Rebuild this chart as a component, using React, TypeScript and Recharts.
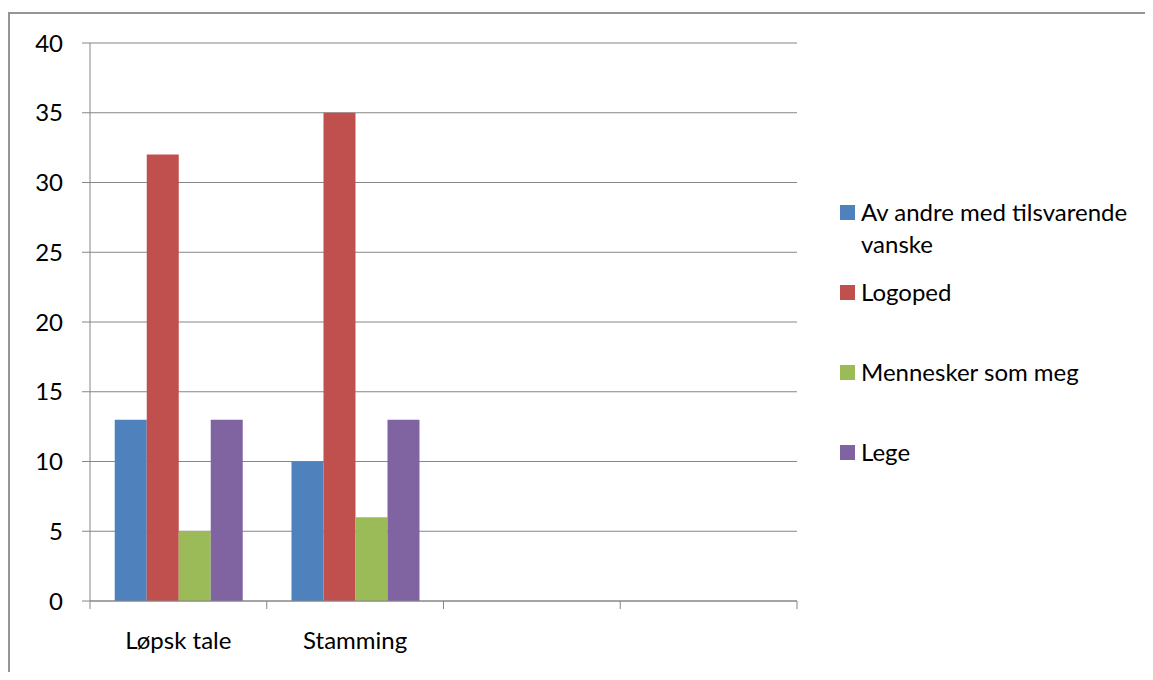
import React from 'react';
import { BarChart, Bar, XAxis, YAxis, CartesianGrid } from 'recharts';

const categories = ['Løpsk tale', 'Stamming', '', ''];
const seriesNames = ['Av andre med tilsvarende vanske', 'Logoped', 'Mennesker som meg', 'Lege'];
const avAndre = [13, 10, null, null];
const logoped = [32, 35, null, null];
const mennesker = [5, 6, null, null];
const lege = [13, 13, null, null];
const yTicks = [0, 5, 10, 15, 20, 25, 30, 35, 40];

const colors = ['#4F81BD', '#C0504D', '#9BBB59', '#8064A2'];
const seriesValues = [avAndre, logoped, mennesker, lege];
const keys = ['s0', 's1', 's2', 's3'];

const data = categories.map((name, i) => {
  const row: Record<string, any> = { name };
  keys.forEach((k, j) => {
    row[k] = seriesValues[j][i];
  });
  return row;
});

const GRID = '#868686';
const FONT = 'Lato, "Open Sans", sans-serif';
const FS = 24;
const X_TICK_SIZE = 8;
const X_TICK_MARGIN = 23;

const CatTick = (props: any) => {
  const { x, y, payload, index, visibleTicksCount, width } = props;
  const count = visibleTicksCount || categories.length;
  const half = payload && typeof payload.offset === 'number' && payload.offset > 0 ? payload.offset : width / (2 * count);
  const axisY = y - X_TICK_SIZE - X_TICK_MARGIN;
  return (
    <g>
      <line x1={x - half} x2={x - half} y1={axisY} y2={axisY + X_TICK_SIZE} stroke={GRID} />
      {index === count - 1 && (
        <line x1={x + half} x2={x + half} y1={axisY} y2={axisY + X_TICK_SIZE} stroke={GRID} />
      )}
      <text x={x} y={y} dy="0.71em" textAnchor="middle" fill="#000" fontSize={FS} fontFamily={FONT}>
        {payload.value}
      </text>
    </g>
  );
};

export default function App() {
  return (
    <div style={{ position: 'relative', width: 1145, height: 664, fontFamily: FONT }}>
      <div
        style={{
          position: 'absolute',
          left: 0,
          top: 4,
          right: 0,
          bottom: 0,
          borderTop: `2px solid #959595`,
          borderLeft: `2px solid #959595`,
        }}
      />
      <div style={{ position: 'absolute', left: 0, top: 0 }}>
        <BarChart
          width={1145}
          height={664}
          data={data}
          margin={{ top: 35, right: 356, bottom: 11, left: 22 }}
          barCategoryGap="14%"
          barGap={0}
        >
          <CartesianGrid vertical={false} stroke={GRID} strokeWidth={1} />
          <XAxis
            dataKey="name"
            height={60}
            axisLine={{ stroke: GRID }}
            tickLine={false}
            tickSize={X_TICK_SIZE}
            tickMargin={X_TICK_MARGIN}
            interval={0}
            tick={<CatTick />}
          />
          <YAxis
            domain={[0, 40]}
            ticks={yTicks}
            interval={0}
            width={60}
            axisLine={{ stroke: GRID }}
            tickLine={{ stroke: GRID }}
            tickSize={8}
            tickMargin={19}
            tick={{ fill: '#000', fontSize: FS, fontFamily: FONT }}
          />
          {keys.map((k, j) => (
            <Bar key={k} dataKey={k} name={seriesNames[j]} fill={colors[j]} isAnimationActive={false} />
          ))}
        </BarChart>
      </div>
      <div style={{ position: 'absolute', left: 832, top: 188, width: 312 }}>
        {seriesNames.map((n, j) => (
          <div key={n} style={{ height: 80, display: 'flex', alignItems: 'flex-start' }}>
            <div
              style={{
                width: 15,
                height: 15,
                background: colors[j],
                marginTop: 9,
                marginRight: 6,
                flex: '0 0 auto',
              }}
            />
            <div style={{ fontSize: FS, lineHeight: '32px', color: '#000', width: 284 }}>{n}</div>
          </div>
        ))}
      </div>
    </div>
  );
}
